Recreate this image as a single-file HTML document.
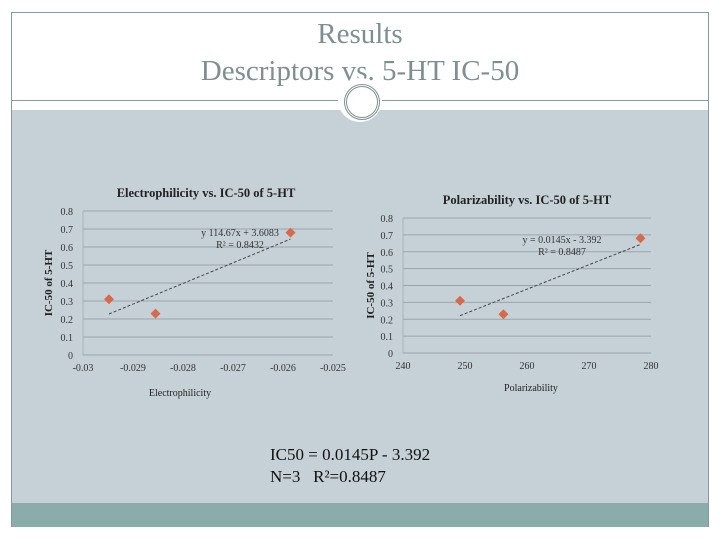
<!DOCTYPE html>
<html><head><meta charset="utf-8"><style>
html,body{margin:0;padding:0;background:#fff}
body{width:720px;height:540px;position:relative;overflow:hidden;font-family:"Liberation Serif",serif}
.abs{position:absolute}
</style></head><body>
<div class="abs" style="left:11px;top:12px;width:698px;height:515px;border:1px solid #8a9a9a;box-sizing:border-box"></div>
<div class="abs" style="left:0;top:16px;width:720px;text-align:center;color:#7f8f8f;font-size:29px;line-height:37px">Results<br>Descriptors vs. 5-HT IC-50</div>
<div class="abs" style="left:12px;top:100px;width:696px;height:1px;background:#8a9a9a"></div>
<div class="abs" style="left:12px;top:110px;width:696px;height:393px;background:#c6d1d7"></div>
<div class="abs" style="left:12px;top:503px;width:696px;height:24px;background:#8aacab"></div>
<div class="abs" style="left:338px;top:78px;width:44px;height:44px;border-radius:50%;background:#fff"></div>
<div class="abs" style="left:342px;top:82px;width:30px;height:30px;border-radius:50%;border:3px double #7f8f8f;margin:2px"></div>
<svg class="abs" style="left:0;top:0" width="720" height="540" id="charts"></svg>
<div class="abs" style="left:270px;top:444px;font-size:17px;line-height:22px;color:#111">IC50 = 0.0145P - 3.392<br>N=3&nbsp;&nbsp; R²=0.8487</div>
<script>
const elecX=[-0.02948,-0.02855,-0.02585];
const elecY=[0.31,0.23,0.68];
const elecXTicks=["-0.03","-0.029","-0.028","-0.027","-0.026","-0.025"];
const polX=[249.2,256.2,278.3];
const polY=[0.31,0.23,0.68];
const polXTicks=["240","250","260","270","280"];
const yTicks=["0","0.1","0.2","0.3","0.4","0.5","0.6","0.7","0.8"];
const elecTrend=[114.67,3.6083];
const polTrend=[0.0145,-3.392];
const NS="http://www.w3.org/2000/svg";
const svg=document.getElementById('charts');
function mk(t,a,txt){const e=document.createElementNS(NS,t);for(const k in a)e.setAttribute(k,a[k]);if(txt!==undefined)e.textContent=txt;svg.appendChild(e);return e;}
function chart(c){
 const sx=v=>c.x0+(v-c.xmin)/(c.xmax-c.xmin)*(c.x1-c.x0);
 const sy=v=>c.y0-(v/0.8)*(c.y0-c.y1);
 yTicks.forEach(t=>{const v=parseFloat(t);const y=sy(v);
  let g=mk('line',{x1:c.x0,x2:c.x1,y1:y,y2:y,stroke:'#9aa4a8','stroke-width':1});
  
  let l=mk('text',{x:c.x0-10,y:y+4,'text-anchor':'end','font-size':10,fill:'#333'},t);
  });
 const ax=mk('line',{x1:c.x0,x2:c.x0,y1:c.y1,y2:c.y0,stroke:'#aab2b6'});
 
 c.ticks.forEach(t=>{const x=sx(parseFloat(t));
  let l=mk('text',{x:x,y:c.y0+16,'text-anchor':'middle','font-size':10,fill:'#333'},t);
  });
 const xa=Math.min(...c.xs), xb=Math.max(...c.xs);
 const tl=mk('line',{x1:sx(xa),y1:sy(c.tr[0]*xa+c.tr[1]),x2:sx(xb),y2:sy(c.tr[0]*xb+c.tr[1]),stroke:'#444','stroke-dasharray':'3,2','stroke-width':1});
 
 c.xs.forEach((v,i)=>{const x=sx(v),y=sy(c.ys[i]);
  const p=mk('path',{d:`M${x} ${y-5}L${x+5} ${y}L${x} ${y+5}L${x-5} ${y}Z`,fill:'#d9694c'});
  });
 const t=mk('text',{x:c.tx,y:c.y1-14,'text-anchor':'middle','font-size':12.5,'font-weight':'bold',fill:'#222'},c.title);
 
 const yl=mk('text',{x:0,y:0,'text-anchor':'middle','font-size':11,'font-weight':'bold',fill:'#222',transform:`translate(${c.ylx},${(c.y0+c.y1)/2}) rotate(-90)`},'IC-50 of 5-HT');
 
 const xl=mk('text',{x:c.xlx,y:c.xly,'text-anchor':'middle','font-size':10,fill:'#222'},c.xlabel);
 
 c.eq.forEach((s,i)=>{const e=mk('text',{x:c.eqx,y:c.eqy+i*12,'text-anchor':'middle','font-size':10,fill:'#333'},s);
  });
}
chart({x0:83,x1:333,y0:355,y1:211,xmin:-0.03,xmax:-0.025,xs:elecX,ys:elecY,ticks:elecXTicks,tr:elecTrend,
 title:'Electrophilicity vs. IC-50 of 5-HT',tx:206,ylx:52,xlabel:'Electrophilicity',xlx:180,xly:396,
 eq:['y   114.67x + 3.6083','R² = 0.8432'],eqx:240,eqy:236});
chart({x0:403,x1:651,y0:353,y1:218,xmin:240,xmax:280,xs:polX,ys:polY,ticks:polXTicks,tr:polTrend,
 title:'Polarizability vs. IC-50 of 5-HT',tx:527,ylx:374,xlabel:'Polarizability',xlx:531,xly:391,
 eq:['y = 0.0145x - 3.392','R² = 0.8487'],eqx:562,eqy:243});
</script>
</body></html>
